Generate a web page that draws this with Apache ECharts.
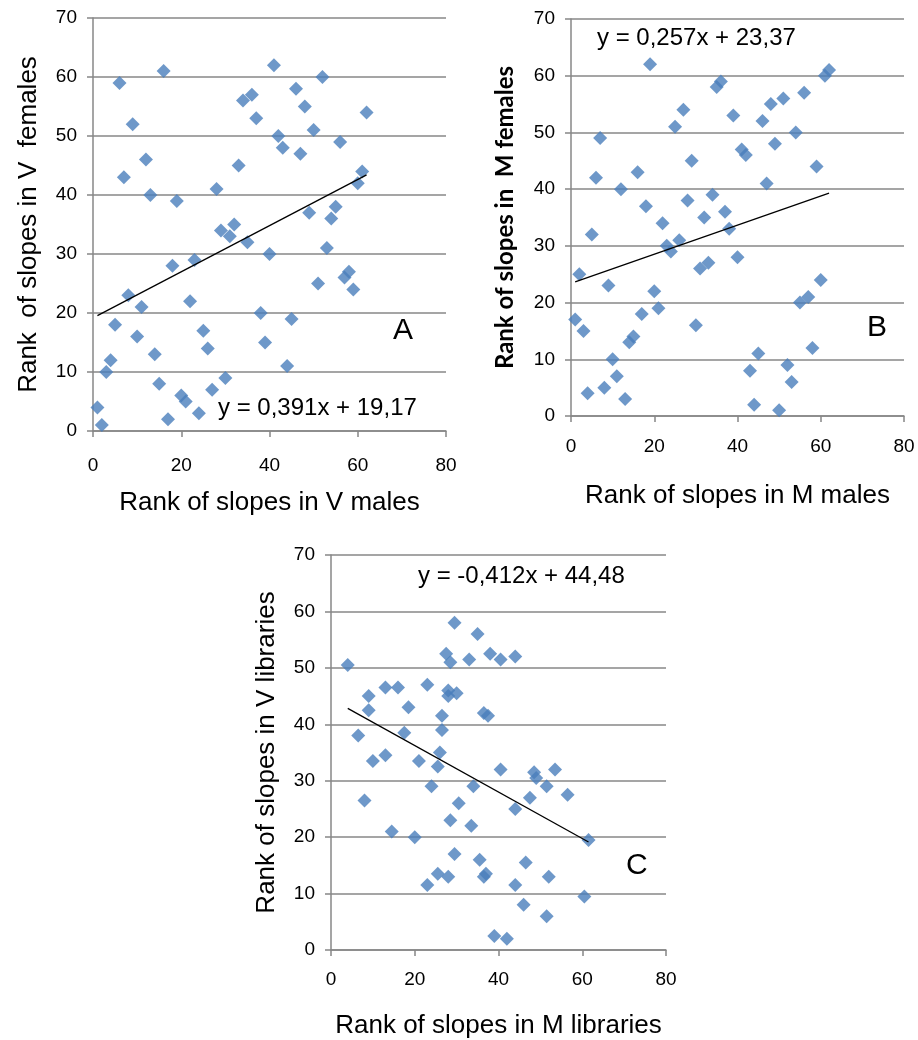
<!DOCTYPE html>
<html>
<head>
<meta charset="utf-8">
<script src="https://cdn.jsdelivr.net/npm/echarts@6/dist/echarts.min.js"></script>
<style>
html,body{margin:0;padding:0;background:#fff;}
#chart{width:918px;height:1040px;}
</style>
</head>
<body>
<div id="chart"></div>
<script>
// ---- Data ----
// Panel A: rank of slopes in V males (x) vs V females (y)
const rankVMales = [1,2,3,4,5,6,7,8,9,10,11,12,13,14,15,16,17,18,19,20,21,22,23,24,25,26,27,28,29,30,31,32,33,34,35,36,37,38,39,40,41,42,43,44,45,46,47,48,49,50,51,52,53,54,55,56,57,58,59,60,61,62];
const rankVFemales = [4,1,10,12,18,59,43,23,52,16,21,46,40,13,8,61,2,28,39,6,5,22,29,3,17,14,7,41,34,9,33,35,45,56,32,57,53,20,15,30,62,50,48,11,19,58,47,55,37,51,25,60,31,36,38,49,26,27,24,42,44,54];
const trendA = [[1, 19.56], [62, 43.41]];

// Panel B: rank of slopes in M males (x) vs M females (y)
const rankMMales = [1,2,3,4,5,6,7,8,9,10,11,12,13,14,15,16,17,18,19,20,21,22,23,24,25,26,27,28,29,30,31,32,33,34,35,36,37,38,39,40,41,42,43,44,45,46,47,48,49,50,51,52,53,54,55,56,57,58,59,60,61,62];
const rankMFemales = [17,25,15,4,32,42,49,5,23,10,7,40,3,13,14,43,18,37,62,22,19,34,30,29,51,31,54,38,45,16,26,35,27,39,58,59,36,33,53,28,47,46,8,2,11,52,41,55,48,1,56,9,6,50,20,57,21,12,44,24,60,61];
const trendB = [[1, 23.63], [62, 39.30]];

// Panel C: rank of slopes in M libraries (x) vs V libraries (y)
const rankMLibraries = [4,6.5,8,9,9,10,13,13,14.5,16,17.5,18.5,20,21,23,23,24,25.5,25.5,26,26.5,26.5,27.5,28,28,28,28.5,28.5,29.5,29.5,30,30.5,33,33.5,34,35,35.5,36.5,36.5,37,37.5,38,39,40.5,40.5,42,44,44,44,46,46.5,47.5,48.5,49,51.5,51.5,52,53.5,56.5,60.5,61.5];
const rankVLibraries = [50.5,38,26.5,45,42.5,33.5,34.5,46.5,21,46.5,38.5,43,20,33.5,47,11.5,29,13.5,32.5,35,41.5,39,52.5,46,45,13,51,23,58,17,45.5,26,51.5,22,29,56,16,42,13,13.5,41.5,52.5,2.5,51.5,32,2,52,25,11.5,8,15.5,27,31.5,30.5,29,6,13,32,27.5,9.5,19.5];
const trendC = [[4, 42.83], [61.5, 19.14]];

const xTicks = [0, 20, 40, 60, 80];
const yTicks = [0, 10, 20, 30, 40, 50, 60, 70];

// ---- Styles ----
const FONT = 'Liberation Sans';
const GRAY = '#878787';
const BLUE = '#4A7EBB';

function pairs(xs, ys){ return xs.map((x,i)=>[x, ys[i]]); }

function xAxisCfg(gridIndex, name, gap, labelMargin){
  return {
    gridIndex, type:'value', min:xTicks[0], max:xTicks[xTicks.length-1], interval:xTicks[1]-xTicks[0],
    name, nameLocation:'middle', nameGap:gap,
    nameTextStyle:{fontFamily:FONT, fontSize:26, color:'#000'},
    axisLine:{show:true, onZero:false, lineStyle:{color:GRAY, width:1.5}},
    axisTick:{show:true, length:6, lineStyle:{color:GRAY, width:1.5}},
    axisLabel:{fontFamily:FONT, fontSize:19, color:'#000', margin:labelMargin},
    splitLine:{show:false}
  };
}
function yAxisCfg(gridIndex, name, gap, nameStyle){
  return {
    gridIndex, type:'value', min:yTicks[0], max:yTicks[yTicks.length-1], interval:yTicks[1]-yTicks[0],
    name, nameLocation:'middle', nameGap:gap,
    nameTextStyle: Object.assign({fontFamily:FONT, fontSize:26, color:'#000'}, nameStyle||{}),
    axisLine:{show:true, onZero:false, lineStyle:{color:GRAY, width:1.5}},
    axisTick:{show:true, length:6, lineStyle:{color:GRAY, width:1.5}},
    axisLabel:{fontFamily:FONT, fontSize:19, color:'#000', margin:16},
    splitLine:{show:true, lineStyle:{color:GRAY, width:1.5}}
  };
}
function scatter(i, data){
  return {type:'scatter', xAxisIndex:i, yAxisIndex:i, data, symbol:'diamond', symbolSize:14,
    itemStyle:{color:BLUE}, silent:true, z:2};
}
function trend(i, data){
  return {type:'line', xAxisIndex:i, yAxisIndex:i, data, symbol:'none',
    lineStyle:{color:'#000', width:1.3}, silent:true, z:3};
}

const chart = echarts.init(document.getElementById('chart'), null, {renderer:'canvas'});
chart.setOption({
  animation:false,
  backgroundColor:'#fff',
  grid:[
    {left:93, top:18, width:353, height:413},
    {left:571, top:19, width:333, height:397},
    {left:331, top:555, width:335, height:397}
  ],
  xAxis:[
    xAxisCfg(0, 'Rank of slopes in V males', 59, 25),
    xAxisCfg(1, 'Rank of slopes in M males', 67, 21),
    xAxisCfg(2, 'Rank of slopes in M libraries', 63, 20)
  ],
  yAxis:[
    yAxisCfg(0, 'Rank  of slopes in V  females', 51),
    yAxisCfg(1, 'Rank of slopes in  M females', 54, {fontFamily:'Lato', fontWeight:'bold', fontSize:24}),
    yAxisCfg(2, 'Rank of slopes in V libraries', 51)
  ],
  series:[
    scatter(0, pairs(rankVMales, rankVFemales)),
    trend(0, trendA),
    scatter(1, pairs(rankMMales, rankMFemales)),
    trend(1, trendB),
    scatter(2, pairs(rankMLibraries, rankVLibraries)),
    trend(2, trendC)
  ],
  graphic:[
    {type:'text', left:218, top:396, style:{text:'y = 0,391x + 19,17', font:'24px "Liberation Sans"', fill:'#000'}},
    {type:'text', left:597, top:26, style:{text:'y = 0,257x + 23,37', font:'24px "Liberation Sans"', fill:'#000'}},
    {type:'text', left:418, top:564, style:{text:'y = -0,412x + 44,48', font:'24px "Liberation Sans"', fill:'#000'}},
    {type:'text', left:393, top:316, style:{text:'A', font:'30px "Liberation Sans"', fill:'#000'}},
    {type:'text', left:867, top:313, style:{text:'B', font:'30px "Liberation Sans"', fill:'#000'}},
    {type:'text', left:626, top:851, style:{text:'C', font:'30px "Liberation Sans"', fill:'#000'}}
  ]
});
</script>
</body>
</html>
